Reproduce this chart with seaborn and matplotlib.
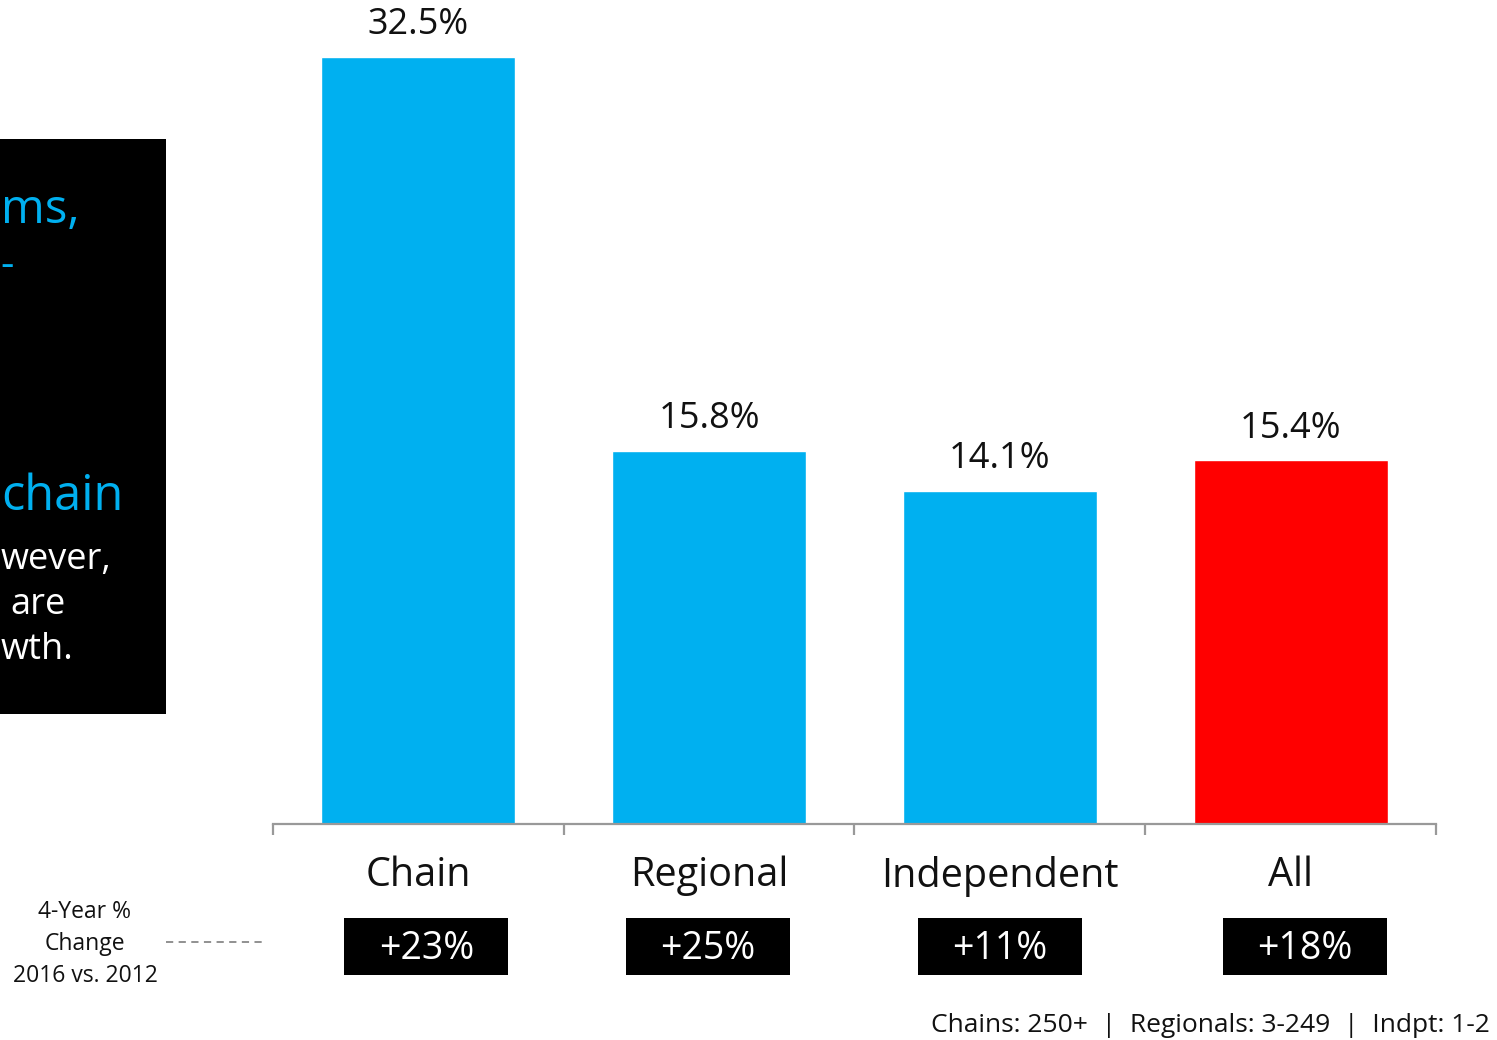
import seaborn as sns
import pandas as pd
import matplotlib.pyplot as plt
from matplotlib.patches import Rectangle
from matplotlib.transforms import blended_transform_factory

# chart data
categories = ["Chain", "Regional", "Independent", "All"]
shares = [32.5, 15.8, 14.1, 15.4]
changes = ["+23%", "+25%", "+11%", "+18%"]
bar_colors = ["#00B0F0", "#00B0F0", "#00B0F0", "#FF0000"]

# cropped side-panel text fragments (colour, text)
panel_lines = [("#00B0F0", "ms,"), ("#00B0F0", "-"), ("#00B0F0", "chain"),
               ("white", "wever,"), ("white", "are"), ("white", "wth.")]

sns.set_theme(style="white")
plt.rcParams['font.family'] = ['Open Sans', 'DejaVu Sans']

W, H = 1497, 1040
fig = plt.figure(figsize=(W / 100, H / 100), dpi=100)
ax = fig.add_axes([273 / W, 1 - 824 / H, (1436 - 273) / W, 824 / H])

df = pd.DataFrame({"cat": categories, "share": shares})
sns.barplot(data=df, x="cat", y="share", hue="cat", palette=bar_colors,
            width=0.667, legend=False, ax=ax, saturation=1)

ax.set_xlim(-0.5, 3.5)
ax.set_ylim(0, 34.9)
for s in ["top", "right", "left"]:
    ax.spines[s].set_visible(False)
ax.spines["bottom"].set_color("#999999")
ax.spines["bottom"].set_linewidth(1.6)
ax.set_yticks([])
ax.set_xlabel("")
ax.set_ylabel("")

# category labels at centres, tick marks at boundaries
ax.set_xticks(range(len(categories)))
ax.set_xticklabels(categories, fontsize=28.5, color="#111111")
ax.tick_params(axis="x", which="major", length=0, pad=23)
ax.set_xticks([i - 0.5 for i in range(len(categories) + 1)], minor=True)
ax.tick_params(axis="x", which="minor", length=8, width=1.6,
               color="#999999", direction="out", bottom=True)

for i, v in enumerate(shares):
    ax.annotate(f"{v}%", (i, v), xytext=(0, 10), textcoords="offset points",
                ha="center", va="bottom", fontsize=26, color="#111111")

# 4-year change boxes (slight horizontal shifts as in the slide)
tr = blended_transform_factory(ax.transData, fig.transFigure)
unit = 1163 / 4
box_shift = [8, -1, 0, 14]
bw = 164 / unit
y0, y1 = 1 - 975 / H, 1 - 918 / H
for i, c in enumerate(changes):
    cx = i + box_shift[i] / unit
    ax.add_patch(Rectangle((cx - bw / 2, y0), bw, y1 - y0, transform=tr,
                           facecolor="black", edgecolor="none", clip_on=False))
    ax.text(cx, (y0 + y1) / 2 - 0.002, c, transform=tr, ha="center", va="center",
            fontsize=27, color="white")

fig.text(85 / W, 1 - 944 / H, "4-Year %\nChange\n2016 vs. 2012", ha="center",
         va="center", fontsize=16.5, color="#111111", linespacing=1.45)
fig.add_artist(plt.Line2D([166 / W, 262 / W], [1 - 942 / H] * 2,
                          transform=fig.transFigure, color="#888888",
                          lw=1.3, ls=(0, (4, 3))))

fig.text(1490 / W, 1 - 1025 / H, "Chains: 250+  |  Regionals: 3-249  |  Indpt: 1-2",
         ha="right", va="center", fontsize=19, color="#111111")

# black side panel (only the tail of its text is visible in the slide)
fig.add_artist(Rectangle((0, 1 - 714 / H), 166 / W, (714 - 139) / H,
                         transform=fig.transFigure, facecolor="black",
                         edgecolor="none"))
panel_pos = [(1, 210, 34), (0, 266, 30), (1, 497, 35),
             (1, 560, 26), (10, 605, 26), (1, 650, 26)]
for (col, txt), (x, y, fs) in zip(panel_lines, panel_pos):
    fig.text(x / W, 1 - y / H, txt, ha="left", va="center", fontsize=fs, color=col)

fig.savefig("out.png", dpi=100)
